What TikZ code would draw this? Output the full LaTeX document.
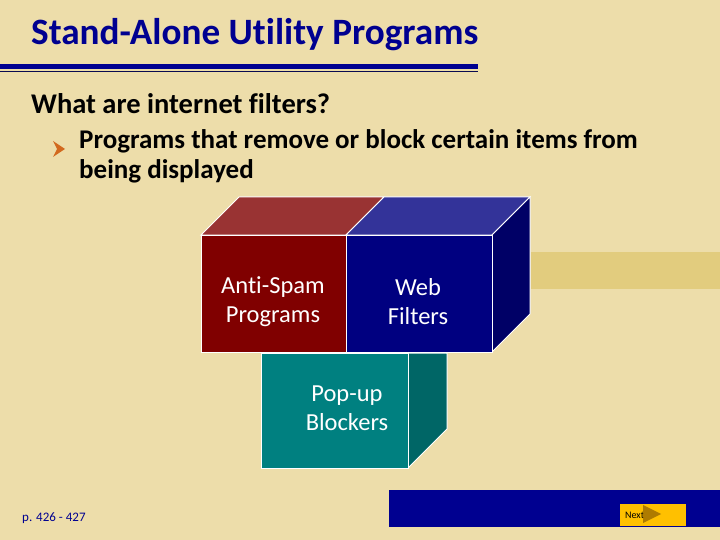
\documentclass[tikz,border=0pt]{standalone}
\usepackage{fontspec}
\setmainfont{Carlito}[Ligatures=NoCommon]
\definecolor{bg}{HTML}{EDDDAA}
\definecolor{band}{HTML}{E2CC7E}
\definecolor{navy}{HTML}{000090}
\definecolor{navydk}{HTML}{0A0A50}
\definecolor{redf}{HTML}{800000}
\definecolor{redt}{HTML}{993333}
\definecolor{bluef}{HTML}{000080}
\definecolor{bluet}{HTML}{333399}
\definecolor{bluer}{HTML}{000066}
\definecolor{tealf}{HTML}{008080}
\definecolor{teals}{HTML}{006666}
\definecolor{btn}{HTML}{FFC000}
\definecolor{tri}{HTML}{A07000}
\definecolor{bul}{HTML}{D2691E}
\begin{document}
\begin{tikzpicture}[x=1pt,y=-1pt,
  face/.style={draw=white,line width=1pt},
  boxtxt/.style={text=white,font=\fontsize{24.5}{29}\selectfont,align=center},
  bodytxt/.style={anchor=base west,inner sep=0pt}]
\useasboundingbox (0,0) rectangle (720,540);
\fill[bg] (0,0) rectangle (720,540);
% title
\node[anchor=base west,inner sep=0pt,text=navy,font=\fontsize{37.2}{40}\selectfont\bfseries] (title) at (31,45) {Stand-Alone Utility Programs};
\fill[navy] (0,64) rectangle (478,69.5);
\fill[navydk] (0,70.7) rectangle (478,72);
% body
\node[bodytxt,font=\fontsize{28.5}{30}\selectfont\bfseries] (q) at (31,114) {What are internet filters?};
\fill[bul] (53,141) -- (65,149) -- (53,157) -- (57,149) -- cycle;
\node[bodytxt,font=\fontsize{27}{30}\selectfont\bfseries] (l1) at (79,149) {Programs that remove or block certain items from};
\node[bodytxt,font=\fontsize{27}{30}\selectfont\bfseries] (l2) at (79,179) {being displayed};
% right band
\fill[band] (531,252) rectangle (720,289);
% cube
\filldraw[face,fill=redt] (201,235) -- (239,197) -- (384,197) -- (346,235) -- cycle;
\filldraw[face,fill=bluet] (346,235) -- (384,197) -- (530,197) -- (492,235) -- cycle;
\filldraw[face,fill=bluer] (492,235) -- (530,197) -- (530,314) -- (492,352) -- cycle;
\filldraw[face,fill=redf] (201,235) rectangle (346,352);
\filldraw[face,fill=bluef] (346,235) rectangle (492,352);
\node[boxtxt] (as) at (273,302) {Anti-Spam\\Programs};
\node[boxtxt] (wf) at (418,302) {Web\\Filters};
% teal box
\filldraw[face,fill=teals] (408,353) -- (447,353) -- (447,429) -- (408,468) -- cycle;
\filldraw[face,fill=tealf] (261,353) rectangle (408,468);
\node[boxtxt] (pb) at (347,408) {Pop-up\\Blockers};
% bottom
\node[anchor=base west,inner sep=0pt,text=navy,font=\fontsize{13}{14}\selectfont] (pg) at (22,521) {p. 426 - 427};
\fill[navy] (389,490) rectangle (720,527);
\fill[btn] (620,504) rectangle (686,526);
\node[anchor=base west,inner sep=0pt,font=\fontsize{10}{11}\selectfont] (nx) at (625,518) {Next};
\fill[tri,opacity=0.85] (643,505) -- (661,514) -- (643,523) -- cycle;
\end{tikzpicture}
\end{document}
